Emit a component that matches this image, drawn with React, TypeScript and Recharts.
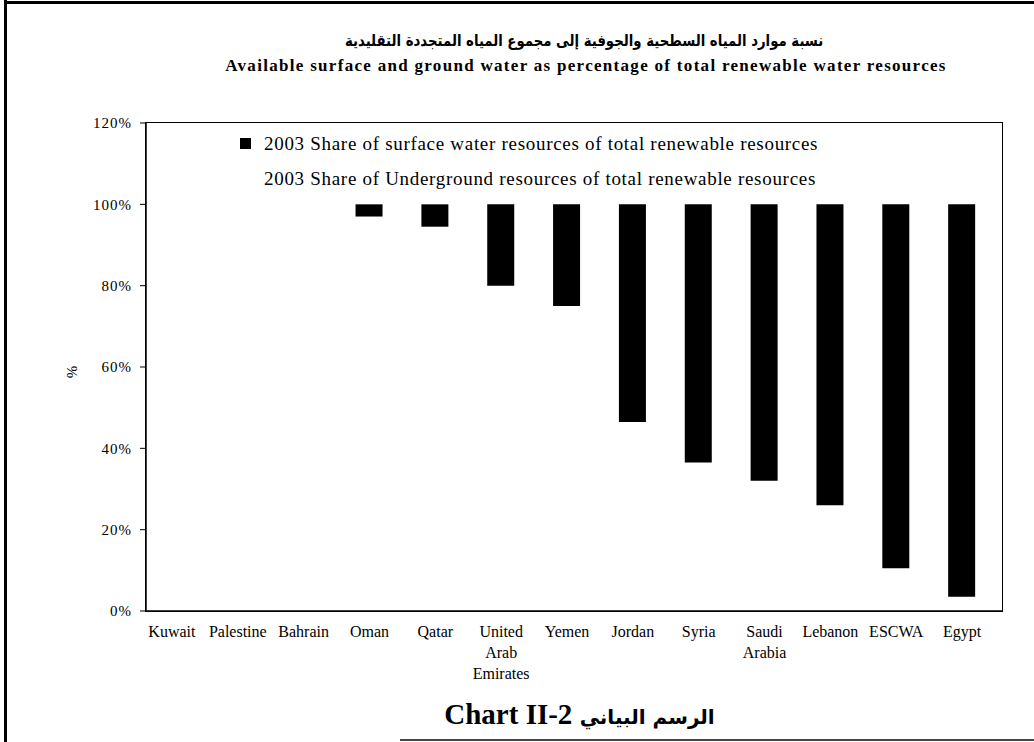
import { BarChart, Bar, XAxis, YAxis } from 'recharts';

// 2003 shares of total renewable water resources, per country (%)
const countries = [
  'Kuwait', 'Palestine', 'Bahrain', 'Oman', 'Qatar', 'United Arab Emirates',
  'Yemen', 'Jordan', 'Syria', 'Saudi Arabia', 'Lebanon', 'ESCWA', 'Egypt',
];
const surfaceShare = [0, 0, 0, 3, 5.5, 20, 25, 53.5, 63.5, 68, 74, 89.5, 96.5];
const undergroundShare = [100, 100, 100, 97, 94.5, 80, 75, 46.5, 36.5, 32, 26, 10.5, 3.5];
const yTicks = [0, 20, 40, 60, 80, 100, 120];

const data = countries.map((name, i) => ({
  name,
  surface: surfaceShare[i],
  underground: undergroundShare[i],
}));

const SERIF = "'Liberation Serif', 'Times New Roman', serif";
const ARABIC = "'DejaVu Sans', 'Liberation Sans', sans-serif";

// plot box
const PLOT = { left: 146, top: 123, width: 856, height: 488 };

// country names wrap one word per line
const CountryTick = ({ x, y, payload }: any) => {
  const words = String(payload.value).split(' ');
  return (
    <text x={x} y={y + 24} textAnchor="middle" fontFamily={SERIF} fontSize={16} fill="#000">
      {words.map((w, i) => (
        <tspan key={i} x={x} dy={i === 0 ? 0 : 21}>{w}</tspan>
      ))}
    </text>
  );
};

export default function App() {
  return (
    <div style={page}>
      <style>{`body{margin:0}`}</style>
      {/* page frame */}
      <div style={{ position: 'absolute', left: 4, top: 0, width: 3, height: 742, background: '#000' }} />
      <div style={{ position: 'absolute', left: 4, top: 1, width: 1030, height: 3, background: '#000' }} />
      <div style={{ position: 'absolute', left: 400, top: 739, width: 634, height: 2, background: '#444' }} />

      <div style={arabicTitle}>
        <span style={{ display: 'inline-block', transform: 'scaleX(0.83)' }}>
          نسبة موارد المياه السطحية والجوفية إلى مجموع المياه المتجددة التقليدية
        </span>
      </div>
      <div style={englishTitle}>Available surface and ground water as percentage of total renewable water resources</div>

      <div style={{ position: 'absolute', left: 0, top: 0 }}>
        <BarChart
          width={1034}
          height={742}
          data={data}
          margin={{ top: PLOT.top, right: 1034 - PLOT.left - PLOT.width, bottom: 71, left: PLOT.left - 80 }}
          barSize={27}
        >
          <XAxis
            dataKey="name"
            interval={0}
            tick={<CountryTick />}
            tickLine={false}
            tickSize={0}
            height={60}
            padding={{ left: -7, right: 7 }}
            axisLine={{ stroke: '#000', strokeWidth: 1.5 }}
          />
          <YAxis
            domain={[0, 120]}
            ticks={yTicks}
            tickFormatter={(v) => `${v}%`}
            width={80}
            tickSize={6}
            tickMargin={8}
            tick={{ fontFamily: SERIF, fontSize: 15, fill: '#000', letterSpacing: 1 }}
            tickLine={{ stroke: '#000' }}
            axisLine={{ stroke: '#000', strokeWidth: 1.5 }}
            label={{
              content: ({ viewBox }: any) => {
                const cx = viewBox.x + 6;
                const cy = viewBox.y + viewBox.height / 2 + 5;
                return (
                  <text x={cx} y={cy} transform={`rotate(-90 ${cx} ${cy})`} textAnchor="middle"
                    dominantBaseline="central" fontFamily={SERIF} fontSize={15} fill="#000">%</text>
                );
              },
            }}
          />
          <Bar dataKey="underground" name="2003 Share of Underground resources of total renewable resources"
            stackId="a" fill="#fff" isAnimationActive={false} />
          <Bar dataKey="surface" name="2003 Share of surface water resources of total renewable resources"
            stackId="a" fill="#000" isAnimationActive={false} />
        </BarChart>
      </div>

      {/* plot frame */}
      <div style={{
        position: 'absolute', left: PLOT.left - 1, top: PLOT.top - 1,
        width: PLOT.width + 2, height: PLOT.height + 2,
        border: '1.5px solid #000', boxSizing: 'border-box', pointerEvents: 'none',
      }} />

      <div style={legendBox}>
        <div style={legendRow}>
          <span style={{ ...legendSwatch, background: '#000' }} />
          <span>2003 Share of surface water resources of total renewable resources</span>
        </div>
        <div style={legendRow}>
          <span style={{ ...legendSwatch, background: '#fff' }} />
          <span>2003 Share of Underground resources of total renewable resources</span>
        </div>
      </div>

      <div style={chartCaption}>
        Chart II-2 <span style={{ fontFamily: ARABIC, fontSize: 20 }}>الرسم البياني</span>
      </div>
    </div>
  );
}

const page: React.CSSProperties = {
  position: 'relative',
  width: 1034,
  height: 742,
  background: '#fff',
  fontFamily: SERIF,
  color: '#000',
  overflow: 'hidden',
};
const arabicTitle: React.CSSProperties = {
  position: 'absolute',
  top: 31,
  left: 0,
  width: 1034,
  paddingLeft: 134,
  boxSizing: 'border-box',
  textAlign: 'center',
  fontFamily: ARABIC,
  fontWeight: 700,
  fontSize: 16,
  direction: 'rtl',
  whiteSpace: 'nowrap',
};
const englishTitle: React.CSSProperties = {
  position: 'absolute',
  top: 56,
  left: 0,
  width: 1034,
  paddingLeft: 138,
  boxSizing: 'border-box',
  textAlign: 'center',
  fontWeight: 700,
  fontSize: 17,
  letterSpacing: 1.3,
  whiteSpace: 'nowrap',
};
const legendBox: React.CSSProperties = {
  position: 'absolute',
  left: 240,
  top: 126,
  fontSize: 19,
  letterSpacing: 0.7,
  lineHeight: '35px',
};
const legendRow: React.CSSProperties = { display: 'flex', alignItems: 'center', whiteSpace: 'nowrap' };
const legendSwatch: React.CSSProperties = {
  width: 11,
  height: 11,
  display: 'inline-block',
  marginRight: 13,
};
const chartCaption: React.CSSProperties = {
  position: 'absolute',
  top: 698,
  left: 0,
  width: 1034,
  paddingLeft: 125,
  boxSizing: 'border-box',
  textAlign: 'center',
  fontWeight: 700,
  fontSize: 29,
  whiteSpace: 'nowrap',
};
